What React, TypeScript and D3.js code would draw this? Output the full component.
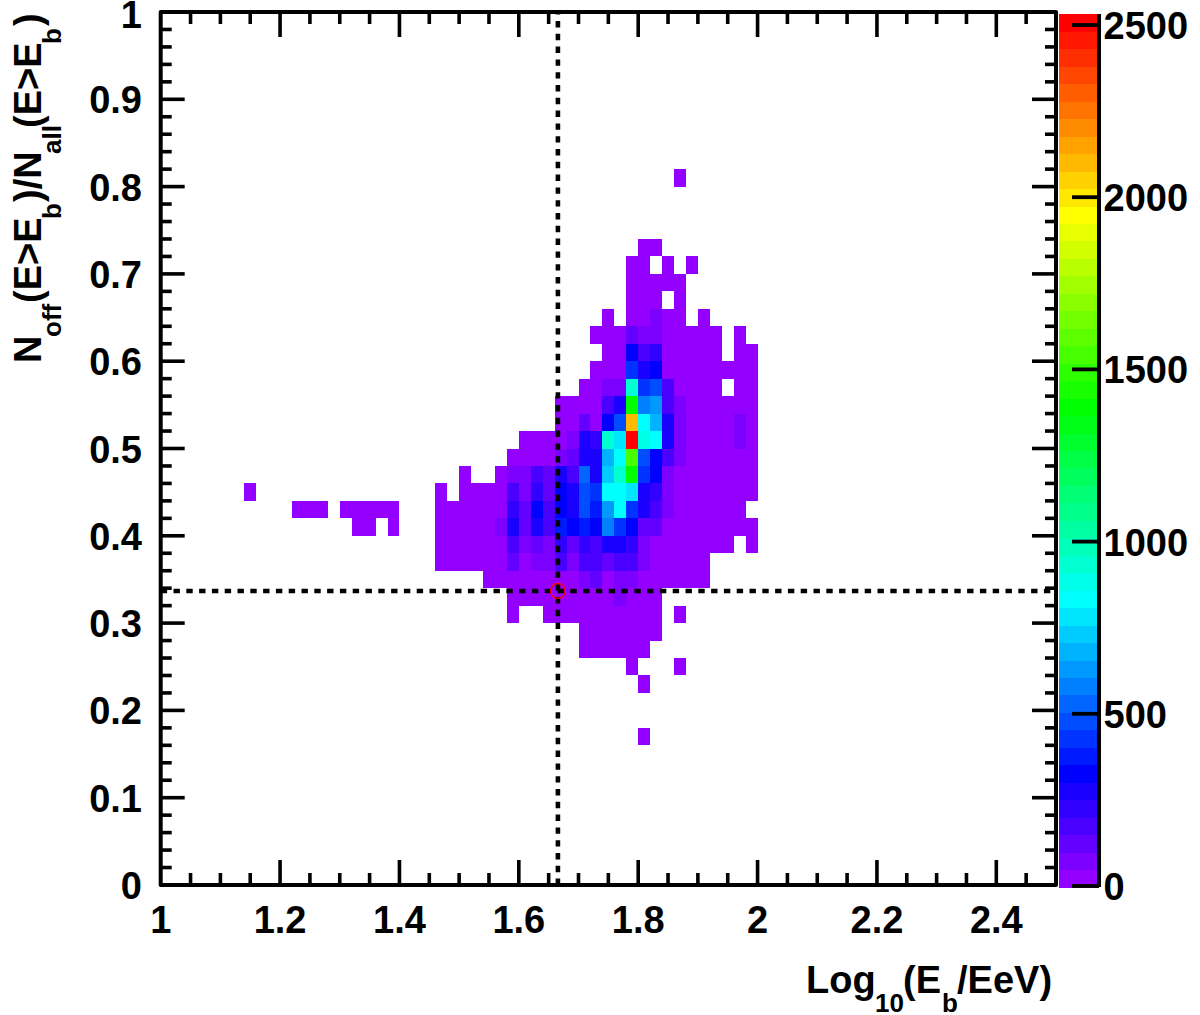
import React, { useEffect, useRef } from 'react';
import * as d3 from 'd3';

const xBinWidth = 0.02;
const yBinWidth = 0.02;
const rowBins = [8, 11, 12, 13, 14, 15, 16, 17, 18, 19, 20, 21, 22, 22, 23, 24, 25, 26, 27, 28, 29, 30, 31, 32, 33, 34, 35, 36, 40];
const rowStarts = [40, 40, 39, 35, 35, 29, 29, 27, 23, 23, 16, 11, 7, 23, 25, 29, 30, 33, 33, 35, 36, 37, 36, 37, 39, 39, 39, 40, 43];
const rowCounts = [
  [20],
  [20],
  [20, 0, 0, 0, 20],
  [20, 20, 20, 20, 20, 20],
  [20, 20, 20, 20, 20, 20, 20],
  [20, 0, 0, 20, 20, 20, 20, 20, 20, 20, 20, 20, 20, 0, 20],
  [20, 20, 20, 20, 20, 20, 20, 20, 20, 75, 20, 20, 20],
  [20, 20, 20, 20, 20, 20, 20, 20, 75, 125, 20, 75, 75, 20, 20, 20, 20, 20, 20],
  [20, 20, 20, 20, 20, 20, 125, 20, 75, 75, 175, 75, 190, 190, 125, 190, 190, 75, 20, 20, 20, 20, 20],
  [20, 20, 20, 20, 20, 20, 175, 75, 125, 75, 230, 125, 230, 190, 280, 280, 230, 75, 20, 20, 20, 20, 20, 20, 20, 0, 20],
  [20, 20, 0, 20, 0, 0, 0, 20, 20, 20, 20, 20, 75, 300, 125, 280, 175, 380, 330, 380, 330, 585, 430, 330, 150, 125, 20, 20, 20, 20, 20, 20, 20, 20],
  [20, 20, 20, 0, 20, 20, 20, 20, 20, 0, 0, 0, 20, 20, 20, 20, 20, 20, 230, 125, 330, 175, 330, 280, 480, 380, 635, 835, 410, 280, 175, 75, 20, 20, 20, 20, 20, 20],
  [20],
  [20, 0, 20, 20, 20, 20, 200, 75, 230, 125, 330, 280, 480, 430, 835, 835, 785, 280, 230, 75, 20, 20, 20, 20, 20, 20, 20],
  [20, 0, 0, 20, 100, 75, 175, 125, 300, 175, 530, 280, 735, 940, 1390, 430, 330, 100, 20, 20, 20, 20, 20, 20, 20],
  [20, 20, 20, 20, 75, 125, 280, 280, 685, 835, 1540, 480, 330, 200, 90, 20, 20, 20, 20, 20, 20],
  [20, 20, 20, 20, 75, 280, 250, 940, 785, 2500, 885, 835, 280, 75, 20, 20, 20, 20, 75, 20],
  [20, 20, 125, 20, 330, 480, 2100, 835, 685, 280, 75, 20, 20, 20, 20, 75, 20],
  [20, 20, 20, 20, 175, 300, 1390, 585, 635, 175, 75, 20, 20, 20, 20, 20, 20],
  [20, 20, 75, 75, 940, 430, 480, 175, 45, 20, 20, 20, 0, 20, 20],
  [20, 20, 20, 450, 280, 330, 20, 20, 20, 20, 20, 20, 20, 20],
  [20, 20, 330, 175, 230, 20, 20, 20, 20, 20, 0, 20, 20],
  [20, 20, 20, 150, 75, 100, 20, 20, 20, 20, 20, 0, 20],
  [20, 0, 20, 20, 60, 20, 20, 0, 20],
  [20, 20, 20, 0, 20],
  [20, 20, 20, 20, 20],
  [20, 20, 0, 20, 0, 20],
  [20, 20],
  [20],
];

const xTicks = [1, 1.2, 1.4, 1.6, 1.8, 2, 2.2, 2.4];
const xTickLabels = ['1', '1.2', '1.4', '1.6', '1.8', '2', '2.2', '2.4'];
const yTicks = [0, 0.1, 0.2, 0.3, 0.4, 0.5, 0.6, 0.7, 0.8, 0.9, 1];
const yTickLabels = ['0', '0.1', '0.2', '0.3', '0.4', '0.5', '0.6', '0.7', '0.8', '0.9', '1'];
const zTicks = [0, 500, 1000, 1500, 2000, 2500];
const zMax = 2532;
const nBands = 50;
const crossX = 1.6655;
const crossY = 0.3368;

const paletteBands = [0, 6, 16, 27, 38, 49];
const paletteColors = ['#9400ff', '#0000ff', '#00ffff', '#00ff00', '#ffff00', '#ff0000'];

const fontFamily = '"Liberation Sans", Arial, sans-serif';

const App = () => {
  const ref = useRef<SVGSVGElement>(null);

  useEffect(() => {
    const svg = d3.select(ref.current);
    svg.selectAll('*').remove();

    const left = 160.7, right = 1056, top = 12, bottom = 885;
    const x = d3.scaleLinear().domain([1, 2.5]).range([left, right]);
    const y = d3.scaleLinear().domain([0, 1]).range([bottom, top]);
    const z = d3.scaleLinear().domain([0, 2500]).range([886, 25]);

    const bandColor = d3.scaleLinear<string>().domain(paletteBands).range(paletteColors);
    const colorOf = (v: number) => bandColor(Math.min(nBands - 1, Math.floor((v / zMax) * nBands)));

    // heat map cells
    const cells: { x0: number; y0: number; v: number }[] = [];
    rowBins.forEach((bin, r) => {
      rowCounts[r].forEach((v, k) => {
        if (v > 0) cells.push({ x0: 1 + (rowStarts[r] + k) * xBinWidth, y0: bin * yBinWidth, v });
      });
    });
    svg.append('g')
      .attr('shape-rendering', 'crispEdges')
      .selectAll('rect')
      .data(cells)
      .enter().append('rect')
      .attr('x', d => x(d.x0))
      .attr('y', d => y(d.y0 + yBinWidth))
      .attr('width', d => x(d.x0 + xBinWidth) - x(d.x0))
      .attr('height', d => y(d.y0) - y(d.y0 + yBinWidth))
      .attr('fill', d => colorOf(d.v));

    // dotted cross and the red marker
    const cross = svg.append('g')
      .attr('stroke', '#000')
      .attr('stroke-width', 4.6)
      .attr('stroke-dasharray', '6.4 6.4');
    cross.append('line')
      .attr('x1', x(1)).attr('x2', x(2.5))
      .attr('y1', y(crossY)).attr('y2', y(crossY));
    cross.append('line')
      .attr('x1', x(crossX)).attr('x2', x(crossX))
      .attr('y1', y(0)).attr('y2', y(1));
    svg.append('circle')
      .attr('cx', x(crossX))
      .attr('cy', y(crossY))
      .attr('r', 7.4)
      .attr('fill', 'none')
      .attr('stroke', '#f00')
      .attr('stroke-width', 1.4);

    // frame with ticks on all four sides
    const axes = svg.append('g').attr('stroke', '#000').attr('fill', 'none');
    axes.append('rect')
      .attr('x', left).attr('y', top)
      .attr('width', right - left).attr('height', bottom - top)
      .attr('stroke-width', 4)
      .attr('stroke-linejoin', 'round');

    const ticks = axes.append('g').attr('stroke-width', 3.6);
    d3.range(0, 31).forEach(i => {
      const v = 1 + i * 0.05;
      const len = i % 4 === 0 ? 25 : 12;
      if (i === 0 || i === 30) return;
      ticks.append('line').attr('x1', x(v)).attr('x2', x(v)).attr('y1', bottom).attr('y2', bottom - len);
      ticks.append('line').attr('x1', x(v)).attr('x2', x(v)).attr('y1', top).attr('y2', top + len);
    });
    d3.range(1, 50).forEach(i => {
      const v = i * 0.02;
      const len = i % 5 === 0 ? 24 : 11;
      ticks.append('line').attr('x1', left).attr('x2', left + len).attr('y1', y(v)).attr('y2', y(v));
      ticks.append('line').attr('x1', right).attr('x2', right - len).attr('y1', y(v)).attr('y2', y(v));
    });

    // colour bar
    const barLeft = 1059, barRight = 1099, barTop = 14, barBottom = 887;
    const bandH = (barBottom - barTop) / nBands;
    svg.append('g')
      .attr('shape-rendering', 'crispEdges')
      .selectAll('rect')
      .data(d3.range(nBands))
      .enter().append('rect')
      .attr('x', barLeft)
      .attr('y', d => barBottom - (d + 1) * bandH)
      .attr('width', barRight - barLeft)
      .attr('height', bandH + 0.5)
      .attr('fill', d => bandColor(d));
    const zAxis = svg.append('g').attr('stroke', '#000');
    zAxis.append('line')
      .attr('x1', barRight).attr('x2', barRight)
      .attr('y1', barTop).attr('y2', barBottom)
      .attr('stroke-width', 4);
    zAxis.selectAll('line.tick')
      .data(zTicks)
      .enter().append('line')
      .attr('class', 'tick')
      .attr('x1', 1072).attr('x2', barRight)
      .attr('y1', d => z(d)).attr('y2', d => z(d))
      .attr('stroke-width', 3.8);

    // labels
    const labels = svg.append('g')
      .attr('font-family', fontFamily)
      .attr('font-weight', 'bold')
      .attr('font-size', 38)
      .attr('fill', '#000');
    labels.selectAll('text.xt')
      .data(xTicks)
      .enter().append('text')
      .attr('class', 'xt')
      .attr('x', d => x(d))
      .attr('y', 933)
      .attr('text-anchor', 'middle')
      .text((d, i) => xTickLabels[i]);
    labels.selectAll('text.yt')
      .data(yTicks)
      .enter().append('text')
      .attr('class', 'yt')
      .attr('x', 142)
      .attr('y', d => y(d) + (d === 1 ? 16 : 14))
      .attr('text-anchor', 'end')
      .text((d, i) => yTickLabels[i]);
    labels.selectAll('text.zt')
      .data(zTicks)
      .enter().append('text')
      .attr('class', 'zt')
      .attr('x', 1103.5)
      .attr('y', d => z(d) + 14)
      .text(d => String(d));

    // x title, subscripts placed by hand
    const piece = (g: any, s: string, px: number, baseline: number, sub: boolean) =>
      g.append('text').attr('x', px).attr('y', baseline).attr('font-size', sub ? 26 : 38).text(s);
    piece(labels, 'Log', 806, 993, false);
    piece(labels, '10', 875, 1012, true);
    piece(labels, '(E', 903, 993, false);
    piece(labels, 'b', 942, 1012, true);
    piece(labels, '/EeV)', 957, 993, false);

    // y title, rotated
    const yTitle = labels.append('g').attr('transform', 'rotate(-90)');
    piece(yTitle, 'N', -363, 41, false);
    piece(yTitle, 'off', -337, 61, true);
    piece(yTitle, '(E>E', -303, 41, false);
    piece(yTitle, 'b', -219, 61, true);
    piece(yTitle, ')/N', -202, 41, false);
    piece(yTitle, 'all', -154, 61, true);
    piece(yTitle, '(E>E', -128, 41, false);
    piece(yTitle, 'b', -44, 61, true);
    piece(yTitle, ')', -26, 41, false);
  }, []);

  return (
    <svg
      ref={ref}
      width={1200}
      height={1015}
      style={{ position: 'absolute', left: 0, top: 0, display: 'block', background: '#fff' }}
    />
  );
};

export default App;
